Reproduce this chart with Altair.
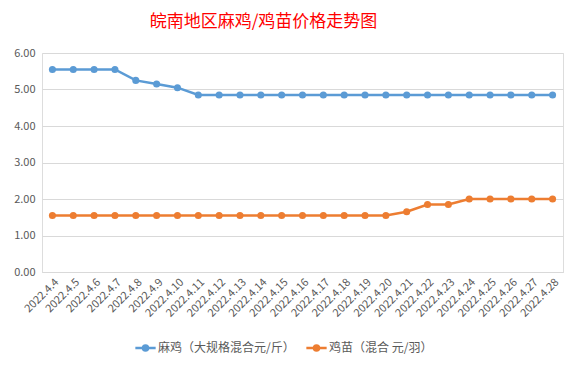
import altair as alt
import pandas as pd

dates = ["2022.4.4", "2022.4.5", "2022.4.6", "2022.4.7", "2022.4.8", "2022.4.9", "2022.4.10",
         "2022.4.11", "2022.4.12", "2022.4.13", "2022.4.14", "2022.4.15", "2022.4.16", "2022.4.17",
         "2022.4.18", "2022.4.19", "2022.4.20", "2022.4.21", "2022.4.22", "2022.4.23", "2022.4.24",
         "2022.4.25", "2022.4.26", "2022.4.27", "2022.4.28"]
chicken = [5.55, 5.55, 5.55, 5.55, 5.25, 5.15, 5.05, 4.85, 4.85, 4.85, 4.85, 4.85, 4.85, 4.85,
           4.85, 4.85, 4.85, 4.85, 4.85, 4.85, 4.85, 4.85, 4.85, 4.85, 4.85]
chick = [1.55, 1.55, 1.55, 1.55, 1.55, 1.55, 1.55, 1.55, 1.55, 1.55, 1.55, 1.55, 1.55, 1.55,
         1.55, 1.55, 1.55, 1.65, 1.85, 1.85, 2.0, 2.0, 2.0, 2.0, 2.0]
series_names = ["麻鸡（大规格混合元/斤）", "鸡苗（混合 元/羽）"]
colors = ["#5B9BD5", "#ED7D31"]

rows = []
for d, a, b in zip(dates, chicken, chick):
    rows.append({"date": d, "series": series_names[0], "value": a})
    rows.append({"date": d, "series": series_names[1], "value": b})
df = pd.DataFrame(rows)

font = "Noto Sans CJK SC"

chart = alt.Chart(df).mark_line(
    strokeWidth=2.5,
    point=alt.OverlayMarkDef(size=50, filled=True, opacity=1),
).encode(
    x=alt.X("date:N", sort=dates, title=None,
            scale=alt.Scale(type="point", padding=0.5),
            axis=alt.Axis(labelAngle=-45, labelFontSize=11, labelColor="#595959",
                          labelFont=font, ticks=False, domainColor="#d9d9d9",
                          labelPadding=4, grid=False)),
    y=alt.Y("value:Q", title=None,
            scale=alt.Scale(domain=[0, 6], nice=False),
            axis=alt.Axis(values=[0, 1, 2, 3, 4, 5, 6], format=".2f", labelFontSize=11,
                          labelColor="#595959", labelFont=font, ticks=False, domain=False,
                          gridColor="#d9d9d9", labelPadding=7)),
    color=alt.Color("series:N", sort=series_names,
                    scale=alt.Scale(domain=series_names, range=colors),
                    legend=alt.Legend(orient="none", direction="horizontal", title=None,
                                      legendX=95, legendY=286,
                                      labelFont=font, labelFontSize=12, labelColor="#595959",
                                      symbolType="M-1.4,0 L1.4,0 M-0.35,0 A0.35,0.35 0 1,1 0.35,0 A0.35,0.35 0 1,1 -0.35,0",
                                      symbolSize=210, symbolStrokeWidth=2.5,
                                      columnPadding=6)),
).properties(
    width=521,
    height=219,
    title=alt.TitleParams("皖南地区麻鸡/鸡苗价格走势图", color="#FF0000", fontSize=17,
                          font=font, fontWeight="normal", anchor="middle", dx=-39, offset=16),
).configure_view(stroke=None).configure(background="white")

chart.save("out.html", embed_options={"renderer": "svg", "actions": False})
